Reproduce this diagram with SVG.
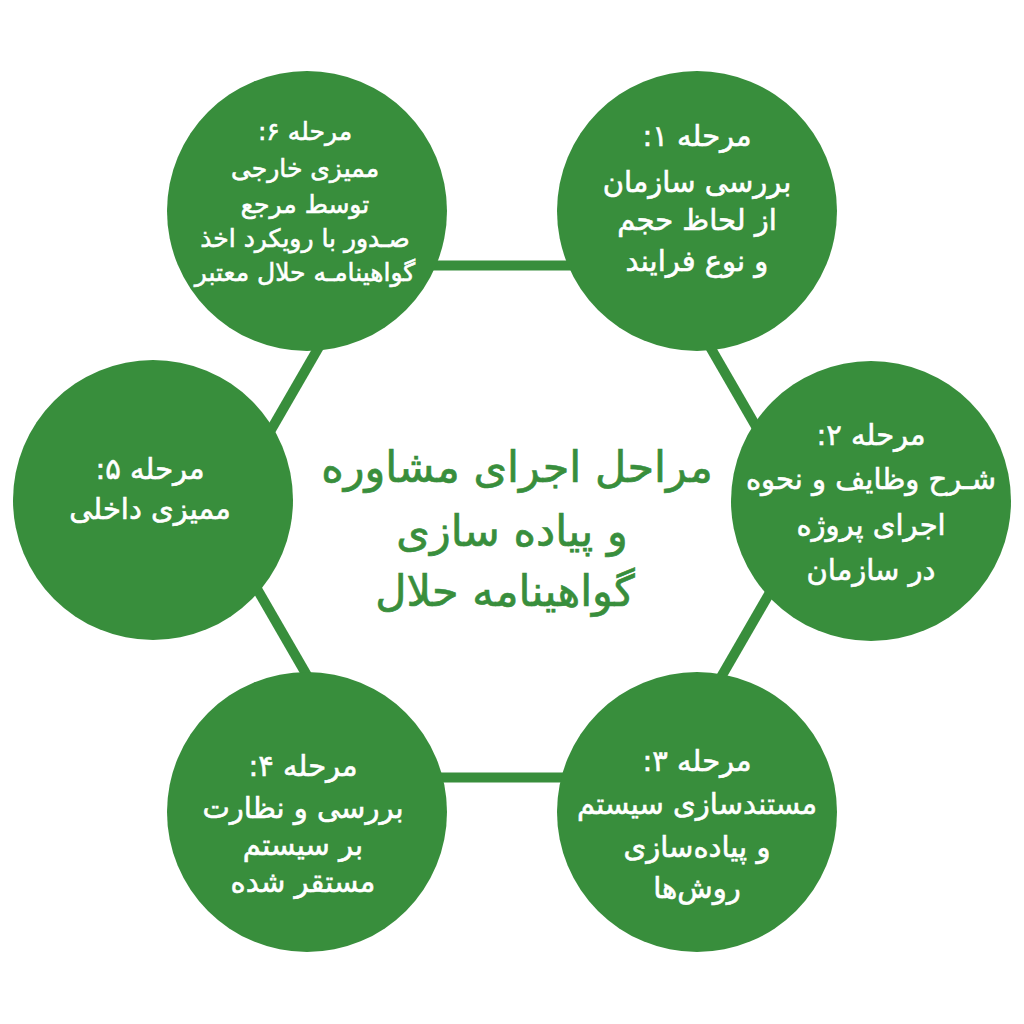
<svg xmlns="http://www.w3.org/2000/svg" width="1024" height="1024" viewBox="0 0 1024 1024">
<style>
.node{fill:#388E3C;}
.conn{stroke:#388E3C;stroke-width:10;fill:none;}
.t{fill:#ffffff;stroke:#ffffff;stroke-width:0.6;font-family:"DejaVu Sans","Noto Sans",sans-serif;font-size:29px;text-anchor:middle;direction:rtl;}
.s{font-size:25px;}
.title{fill:#388E3C;stroke:#388E3C;stroke-width:0.7;font-family:"DejaVu Sans","Noto Sans",sans-serif;font-size:43px;text-anchor:middle;direction:rtl;}
</style>
<rect width="1024" height="1024" fill="#ffffff"/>
<g id="connectors">
<line class="conn" x1="366" y1="265.5" x2="663" y2="265.5"/>
<line class="conn" x1="663" y1="265.5" x2="811" y2="521.5"/>
<line class="conn" x1="811" y1="521.5" x2="663" y2="777.5"/>
<line class="conn" x1="663" y1="777.5" x2="366" y2="777.5"/>
<line class="conn" x1="366" y1="777.5" x2="218" y2="521.5"/>
<line class="conn" x1="218" y1="521.5" x2="366" y2="265.5"/>
</g>
<g id="title">
<text class="title" x="517" y="482">مراحل اجرای مشاوره</text>
<text class="title" x="512" y="546">و پیاده سازی</text>
<text class="title" x="505" y="606">گواهینامه حلال</text>
</g>
<g id="step1">
<circle class="node" cx="697" cy="211" r="140"/>
<text class="t" x="697" y="146">مرحله ۱:</text>
<text class="t" x="697" y="192">بررسی سازمان</text>
<text class="t" x="697" y="230">از لحاظ حجم</text>
<text class="t" x="697" y="271">و نوع فرایند</text>
</g>
<g id="step2">
<circle class="node" cx="871" cy="501" r="140"/>
<text class="t" x="871" y="445">مرحله ۲:</text>
<text class="t" x="871" y="489">شـرح وظایف و نحوه</text>
<text class="t" x="871" y="535">اجرای پروژه</text>
<text class="t" x="871" y="580">در سازمان</text>
</g>
<g id="step3">
<circle class="node" cx="697" cy="812" r="140"/>
<text class="t" x="697" y="771">مرحله ۳:</text>
<text class="t" x="697" y="814">مستندسازی  سیستم</text>
<text class="t" x="697" y="857">و پیاده&#8204;سازی</text>
<text class="t" x="697" y="898">روش&#8204;ها</text>
</g>
<g id="step4">
<circle class="node" cx="307" cy="812" r="140"/>
<text class="t" x="303" y="776">مرحله ۴:</text>
<text class="t" x="303" y="818">بررسی و نظارت</text>
<text class="t" x="303" y="855">بر سیستم</text>
<text class="t" x="303" y="892">مستقر شده</text>
</g>
<g id="step5">
<circle class="node" cx="153" cy="500" r="140"/>
<text class="t" x="150" y="479">مرحله ۵:</text>
<text class="t" x="150" y="519">ممیزی داخلی</text>
</g>
<g id="step6">
<circle class="node" cx="307" cy="211" r="140"/>
<text class="t s" x="305" y="140">مرحله ۶:</text>
<text class="t s" x="305" y="177">ممیزی خارجی</text>
<text class="t s" x="305" y="213">توسط مرجع</text>
<text class="t s" x="305" y="247">صـدور با رویکرد اخذ</text>
<text class="t s" x="305" y="281">گواهینامـه حلال معتبر</text>
</g>
</svg>
